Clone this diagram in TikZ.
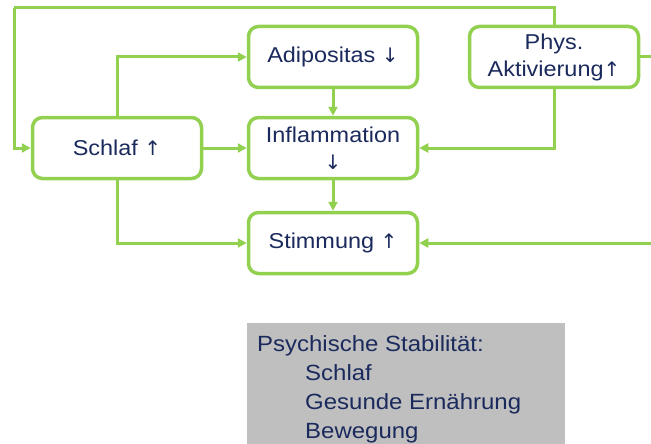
\documentclass[tikz,border=0pt]{standalone}
\usepackage{fontspec}
\setmainfont{Liberation Sans}[FakeStretch=1.09]
\newfontfamily\arrowfont{DejaVu Sans}
\newcommand{\myup}{{\arrowfont\fontsize{20pt}{20pt}\selectfont ↑}}
\newcommand{\mydown}{{\arrowfont\fontsize{20pt}{20pt}\selectfont ↓}}
\usetikzlibrary{arrows.meta}
\definecolor{grn}{HTML}{92D050}
\definecolor{navy}{HTML}{1B2A5C}
\definecolor{greybox}{HTML}{BFBFBF}
\begin{document}
\begin{tikzpicture}[x=1pt,y=-1pt,
  box/.style={draw=grn,line width=3.5pt,rounded corners=10pt,fill=white,
    minimum width=169pt,minimum height=61pt,inner sep=2pt,align=center,
    text=navy,font=\fontsize{21.5pt}{27pt}\selectfont},
  conn/.style={draw=grn,line width=3pt},
  arr/.style={conn,-{Triangle[length=9pt,width=9pt]}}]
\useasboundingbox (0,0) rectangle (651,444);
\node[box] (schlaf) at (117,148) {Schlaf \myup};
\node[box] (adipo) at (333,57) {Adipositas \mydown};
\node[box] (infl) at (333,148) {Inflammation\\\mydown};
\node[box] (stim) at (333,243) {Stimmung \myup};
\node[box] (phys) at (554,57) {Phys.\\Aktivierung\myup};
\coordinate (tl) at (14,8);
\coordinate (re1) at (651,57);
\coordinate (re2) at (651,243);
\draw[conn] (phys.north) |- (tl);
\draw[arr] (tl) |- (schlaf.west);
\draw[conn] (phys.east) -- (re1);
\draw[arr] (re2) -- (stim.east);
\draw[arr] (phys.south) |- (infl.east);
\draw[arr] (schlaf.north) |- (adipo.west);
\draw[arr] (schlaf.east) -- (infl.west);
\draw[arr] (schlaf.south) |- (stim.west);
\draw[arr] (adipo.south) -- (infl.north);
\draw[arr] (infl.south) -- (stim.north);
\node[fill=greybox,minimum width=318pt,minimum height=121pt,anchor=north west,inner sep=0pt] (grey) at (247,323) {};
\node[anchor=base west,inner sep=0pt,align=left,text=navy,font=\fontsize{22pt}{29pt}\selectfont] (gtext) at (257,438)
 {Psychische Stabilität:\\\hspace*{48pt}Schlaf\\\hspace*{48pt}Gesunde Ernährung\\\hspace*{48pt}Bewegung};
\end{tikzpicture}
\end{document}
